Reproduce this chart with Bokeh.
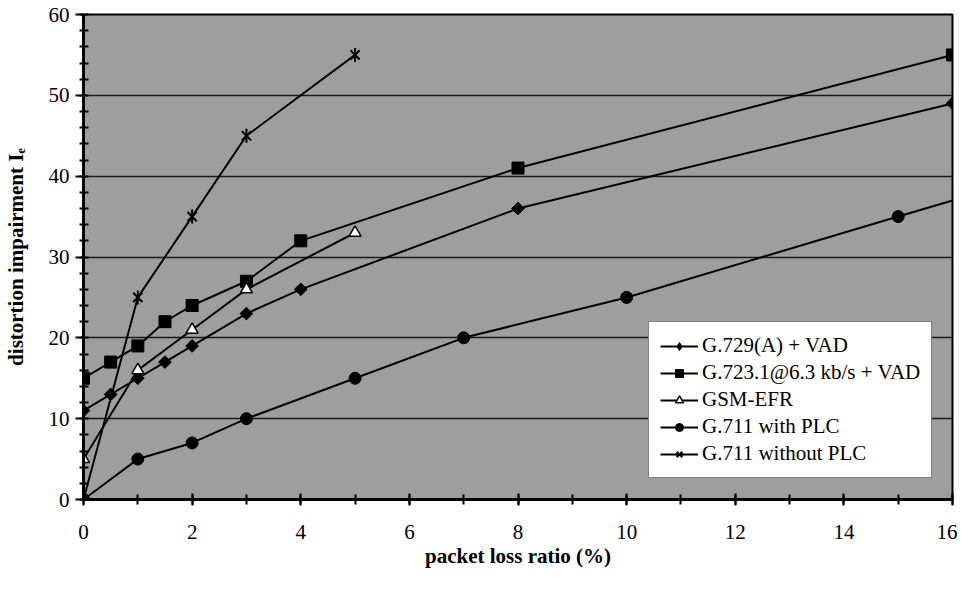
from bokeh.plotting import figure
from bokeh.models import Range1d, SingleIntervalTicker, Legend, LegendItem
from bokeh.embed import file_html
from bokeh.resources import INLINE

# ---- data ----
x_g729 = [0, 0.5, 1, 1.5, 2, 3, 4, 8, 16]
y_g729 = [11, 13, 15, 17, 19, 23, 26, 36, 49]

x_g723 = [0, 0.5, 1, 1.5, 2, 3, 4, 8, 16]
y_g723 = [15, 17, 19, 22, 24, 27, 32, 41, 55]

x_gsm = [0, 1, 2, 3, 5]
y_gsm = [5, 16, 21, 26, 33]

x_plc = [0, 1, 2, 3, 5, 7, 10, 15]
y_plc = [0, 5, 7, 10, 15, 20, 25, 35]
# line continues past the last marker to the right edge
x_plc_tail = [15, 16]
y_plc_tail = [35, 37]

x_noplc = [0, 1, 2, 3, 5]
y_noplc = [0, 25, 35, 45, 55]

labels = ["G.729(A) + VAD", "G.723.1@6.3 kb/s + VAD", "GSM-EFR",
          "G.711 with PLC", "G.711 without PLC"]

FONT = "Liberation Serif"
NAN = float("nan")

p = figure(width=957, height=574, output_backend="svg", toolbar_location=None,
           x_range=Range1d(0, 16), y_range=Range1d(0, 60),
           min_border_left=80, min_border_right=5, min_border_top=14,
           min_border_bottom=75)

p.background_fill_color = "#9e9e9e"
p.border_fill_color = "white"
p.outline_line_color = "black"
p.outline_line_width = 2

# grid
p.xgrid.visible = False
p.ygrid.grid_line_color = "#1a1a1a"
p.ygrid.grid_line_width = 1.3

# axes
p.xaxis.ticker = SingleIntervalTicker(interval=2, num_minor_ticks=2)
p.yaxis.ticker = SingleIntervalTicker(interval=10, num_minor_ticks=5)
for ax in (p.xaxis[0], p.yaxis[0]):
    ax.axis_line_width = 3
    ax.axis_line_color = "black"
    ax.major_tick_line_width = 2
    ax.minor_tick_line_width = 2
    ax.major_tick_line_color = "black"
    ax.minor_tick_line_color = "black"
    ax.major_label_text_font = FONT
    ax.major_label_text_font_size = "21px"
    ax.major_label_text_color = "black"
    ax.axis_label_text_font = FONT
    ax.axis_label_text_font_style = "bold"
    ax.axis_label_text_font_size = "21px"
    ax.axis_label_text_color = "black"

p.xaxis.major_tick_in = 6
p.xaxis.major_tick_out = 6
p.xaxis.minor_tick_in = 5
p.xaxis.minor_tick_out = 5
p.xaxis.major_label_standoff = 19
p.xaxis.axis_label = "packet loss ratio (%)"
p.xaxis.axis_label_standoff = 2

p.yaxis.major_tick_in = 0
p.yaxis.major_tick_out = 8
p.yaxis.minor_tick_in = 5
p.yaxis.minor_tick_out = 4
p.yaxis.major_label_standoff = 6
p.yaxis.axis_label = "distortion impairment I\u2091"
p.yaxis.axis_label_standoff = 18

LW = 2
r1l = p.line(x_g729, y_g729, line_color="black", line_width=LW)
p.scatter(x_g729, y_g729, marker="square", angle=0.7854, size=9,
          fill_color="black", line_color="black")
# legend-only glyph (single NaN point, nothing drawn) so the legend shows a diamond
r1k = p.scatter(x=[NAN], y=[NAN], marker="diamond", size=15,
                fill_color="black", line_color="black")

r2l = p.line(x_g723, y_g723, line_color="black", line_width=LW)
r2m = p.scatter(x_g723, y_g723, marker="square", size=12, fill_color="black", line_color="black")

r3l = p.line(x_gsm, y_gsm, line_color="black", line_width=LW)
r3m = p.scatter(x_gsm, y_gsm, marker="triangle", size=12, fill_color="white",
                line_color="black", line_width=1.5)

r4l = p.line(x_plc, y_plc, line_color="black", line_width=LW)
r4t = p.line(x_plc_tail, y_plc_tail, line_color="black", line_width=LW)
r4m = p.scatter(x_plc, y_plc, marker="circle", size=12, fill_color="black", line_color="black")

r5l = p.line(x_noplc, y_noplc, line_color="black", line_width=LW)
r5m = p.scatter(x_noplc, y_noplc, marker="x", size=13, line_color="black", line_width=2)
r5v = p.scatter(x_noplc, y_noplc, marker="dash", angle=1.5708, size=14,
                line_color="black", line_width=2)

legend = Legend(items=[
    LegendItem(label=labels[0], renderers=[r1l, r1k]),
    LegendItem(label=labels[1], renderers=[r2l, r2m]),
    LegendItem(label=labels[2], renderers=[r3l, r3m]),
    LegendItem(label=labels[3], renderers=[r4l, r4m]),
    LegendItem(label=labels[4], renderers=[r5l, r5m, r5v]),
], location=(565, 21))
legend.background_fill_color = "white"
legend.background_fill_alpha = 1
legend.border_line_color = "black"
legend.border_line_width = 1.5
legend.label_text_font = FONT
legend.label_text_font_size = "21px"
legend.label_text_color = "black"
legend.glyph_width = 38
legend.glyph_height = 20
legend.label_height = 20
legend.spacing = 2
legend.padding = 11
legend.margin = 0
legend.label_standoff = 4
p.add_layout(legend, "center")

open("out.html", "w").write(file_html(p, INLINE))
